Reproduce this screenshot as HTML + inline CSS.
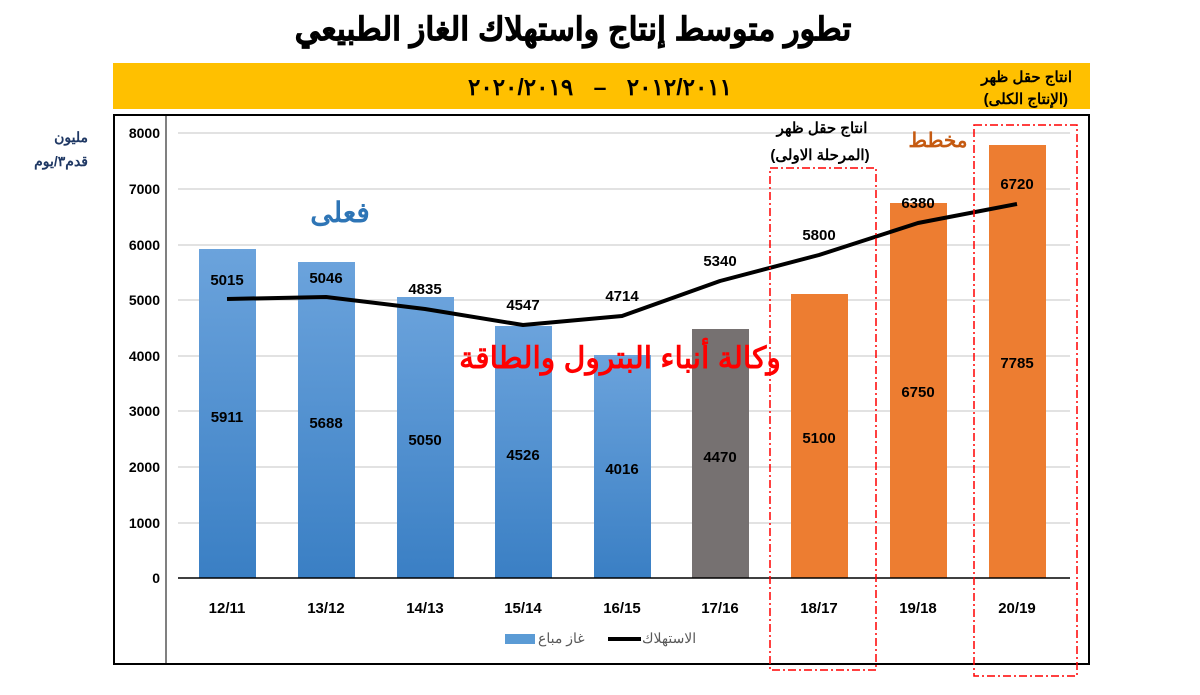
<!DOCTYPE html>
<html><head><meta charset="utf-8"><style>
body{margin:0;background:#fff;width:1200px;height:690px;overflow:hidden}
svg text{font-family:"Liberation Sans","Noto Sans CJK SC",sans-serif}
</style></head><body>
<svg width="1200" height="690" viewBox="0 0 1200 690" xmlns="http://www.w3.org/2000/svg">
<defs>
<linearGradient id="bl" x1="0" y1="0" x2="0" y2="1"><stop offset="0" stop-color="#6ba3dc"/><stop offset="1" stop-color="#3a7fc4"/></linearGradient>
</defs>
<text x="573" y="40" text-anchor="middle" font-size="32" font-weight="bold" fill="#000" stroke="#000" stroke-width="0.8">تطور متوسط إنتاج واستهلاك الغاز الطبيعي</text>
<rect x="113" y="63" width="977" height="46" fill="#ffc000"/>
<g font-size="23" font-weight="bold">
<text x="468" y="95">٢٠٢٠/٢٠١٩</text>
<text x="600" y="95" text-anchor="middle">–</text>
<text x="732" y="95" text-anchor="end">٢٠١٢/٢٠١١</text>
</g>
<text x="1072" y="82" text-anchor="end" font-size="15" font-weight="bold">انتاج حقل ظهر</text>
<text x="1068" y="104" text-anchor="end" font-size="15" font-weight="bold">(الإنتاج الكلى)</text>
<rect x="114" y="115" width="975" height="549" fill="none" stroke="#000" stroke-width="2"/>
<text x="88" y="142" text-anchor="end" font-size="14" font-weight="bold" fill="#1f3864">مليون</text>
<text x="88" y="166" text-anchor="end" font-size="14" font-weight="bold" fill="#1f3864">قدم٣/يوم</text>
<g stroke="#d9d9d9" stroke-width="1.5">
<line x1="178" y1="133" x2="1070" y2="133"/><line x1="178" y1="189" x2="1070" y2="189"/><line x1="178" y1="245" x2="1070" y2="245"/><line x1="178" y1="300" x2="1070" y2="300"/><line x1="178" y1="356" x2="1070" y2="356"/><line x1="178" y1="411" x2="1070" y2="411"/><line x1="178" y1="467" x2="1070" y2="467"/><line x1="178" y1="523" x2="1070" y2="523"/>
</g>
<line x1="166" y1="115" x2="166" y2="664" stroke="#000"/>
<g font-size="14" font-weight="bold" text-anchor="end">
<text x="160" y="138">8000</text><text x="160" y="194">7000</text><text x="160" y="250">6000</text><text x="160" y="305">5000</text><text x="160" y="361">4000</text><text x="160" y="416">3000</text><text x="160" y="472">2000</text><text x="160" y="528">1000</text><text x="160" y="583">0</text>
</g>
<g>
<rect x="199" y="249" width="57" height="329" fill="url(#bl)"/>
<rect x="298" y="262" width="57" height="316" fill="url(#bl)"/>
<rect x="397" y="297" width="57" height="281" fill="url(#bl)"/>
<rect x="495" y="326" width="57" height="252" fill="url(#bl)"/>
<rect x="594" y="355" width="57" height="223" fill="url(#bl)"/>
<rect x="692" y="329" width="57" height="249" fill="#767171"/>
<rect x="791" y="294" width="57" height="284" fill="#ed7d31"/>
<rect x="890" y="203" width="57" height="375" fill="#ed7d31"/>
<rect x="989" y="145" width="57" height="433" fill="#ed7d31"/>
</g>
<line x1="178" y1="578" x2="1070" y2="578" stroke="#000" stroke-width="1.5"/>
<g font-size="15" font-weight="bold" text-anchor="middle">
<text x="227" y="422">5911</text><text x="326" y="428">5688</text><text x="425" y="445">5050</text><text x="523" y="460">4526</text><text x="622" y="474">4016</text><text x="720" y="462">4470</text><text x="819" y="443">5100</text><text x="918" y="397">6750</text><text x="1017" y="368">7785</text>
<text x="227" y="285">5015</text><text x="326" y="283">5046</text><text x="425" y="294">4835</text><text x="523" y="310">4547</text><text x="622" y="301">4714</text><text x="720" y="266">5340</text><text x="819" y="240">5800</text><text x="918" y="208">6380</text><text x="1017" y="189">6720</text>
<text x="227" y="613">12/11</text><text x="326" y="613">13/12</text><text x="425" y="613">14/13</text><text x="523" y="613">15/14</text><text x="622" y="613">16/15</text><text x="720" y="613">17/16</text><text x="819" y="613">18/17</text><text x="918" y="613">19/18</text><text x="1017" y="613">20/19</text>
</g>
<polyline points="227,299 326,297 425,309 523,325 622,316 720,281 819,255 918,223 1017,204" fill="none" stroke="#000" stroke-width="4" stroke-linejoin="round"/>
<text x="340" y="222" text-anchor="middle" font-size="28" font-weight="bold" fill="#2e75b6">فعلى</text>
<text x="620" y="368" text-anchor="middle" font-size="30" font-weight="bold" fill="#ff0000">وكالة أنباء البترول والطاقة</text>
<text x="938" y="147" text-anchor="middle" font-size="20" font-weight="bold" fill="#c55a11">مخطط</text>
<text x="822" y="133" text-anchor="middle" font-size="15" font-weight="bold">انتاج حقل ظهر</text>
<text x="820" y="160" text-anchor="middle" font-size="15" font-weight="bold">(المرحلة الاولى)</text>
<g fill="none" stroke="#ff0000" stroke-width="1.5" stroke-dasharray="8,3,2,3">
<rect x="770" y="168" width="106" height="502"/>
<rect x="974" y="125" width="103" height="551"/>
</g>
<rect x="505" y="634" width="30" height="10" fill="#5b9bd5"/>
<text x="538" y="643" font-size="14" fill="#595959">غاز مباع</text>
<line x1="608" y1="639" x2="641" y2="639" stroke="#000" stroke-width="4"/>
<text x="642" y="643" font-size="14" fill="#595959">الاستهلاك</text>
</svg>
</body></html>
